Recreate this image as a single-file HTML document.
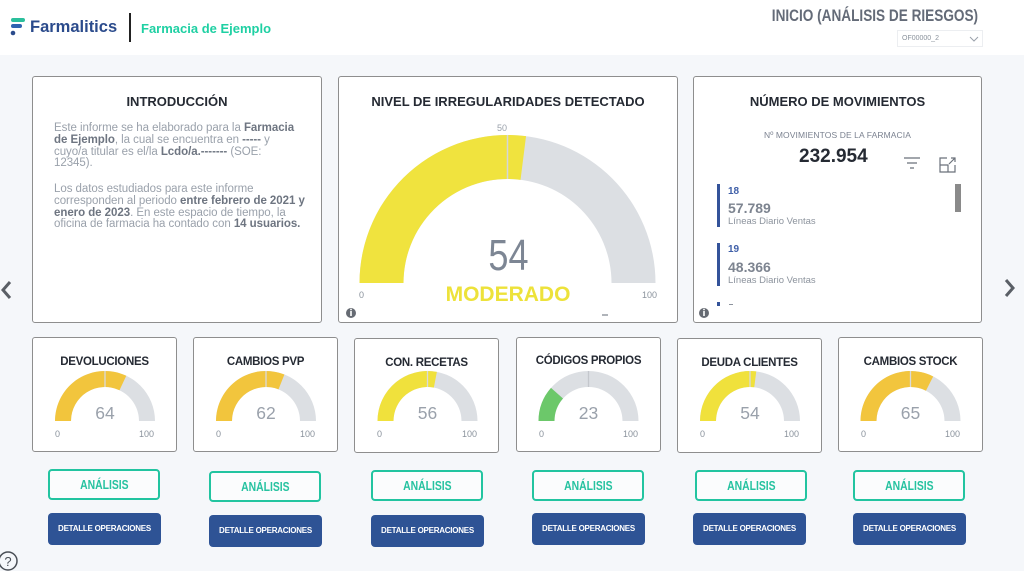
<!DOCTYPE html>
<html><head><meta charset="utf-8">
<style>
*{margin:0;padding:0;box-sizing:border-box}
body{width:1024px;height:571px;overflow:hidden;background:#f5f7fa;font-family:"Liberation Sans",sans-serif;position:relative}
.abs{position:absolute}
.hdr{left:0;top:0;width:1024px;height:55px;background:#fff}
.card{position:absolute;background:#fff;border:1px solid #8e8e8e;border-radius:3px}
.ttl{position:absolute;left:0;width:100%;text-align:center;font-weight:bold;color:#252a33;white-space:nowrap}
.intro{position:absolute;left:21px;font-size:11.5px;line-height:11.8px;color:#9aa1ab;white-space:nowrap;letter-spacing:-0.05px}
.intro b{color:#6e7581}
.val{position:absolute;text-align:center;color:#9aa1ab;font-size:17.5px;width:60px;line-height:18px}
.lbl{position:absolute;font-size:9px;color:#8a929c;line-height:10px}
.btnA{position:absolute;width:112px;height:31px;border:2px solid #22c4a0;border-radius:4px;background:#fbfcfd;color:#26c2a0;font-weight:bold;font-size:13px;text-align:center;line-height:27px}
.btnA span{display:inline-block;transform:scaleX(0.8)}
.btnD{position:absolute;width:113px;height:32px;background:#2e5395;border-radius:4px;color:#fff;font-weight:bold;font-size:8px;text-align:center;line-height:32px;letter-spacing:-0.25px}
svg{position:absolute;left:0;top:0}
</style></head><body>
<div class="abs hdr"></div>
<!-- header left -->
<div class="abs" style="left:30px;top:17px;font-size:16.5px;font-weight:bold;color:#2b4b8c;line-height:20px">Farmalitics</div>
<div class="abs" style="left:129px;top:13px;width:1.5px;height:29px;background:#222"></div>
<div class="abs" style="left:141px;top:20px;font-size:13px;font-weight:bold;color:#1fd0a3;line-height:17px">Farmacia de Ejemplo</div>
<!-- header right -->
<div class="abs" style="left:725px;top:6px;width:300px;text-align:center;line-height:20px;white-space:nowrap"><span style="display:inline-block;font-size:17px;font-weight:bold;color:#646b78;transform:scaleX(0.8);transform-origin:center">INICIO (ANÁLISIS DE RIESGOS)</span></div>
<div class="abs" style="left:897px;top:30px;width:86px;height:17px;background:#fff;border:1px solid #eceef1"></div>
<div class="abs" style="left:902px;top:34px;font-size:7px;color:#8a929c;line-height:9px">OF00000_2</div>

<!-- intro card -->
<div class="card" style="left:32px;top:76px;width:290px;height:247px">
  <div class="ttl" style="top:17px;font-size:13px">INTRODUCCIÓN</div>
  <div class="intro" style="top:46px">Este informe se ha elaborado para la <b>Farmacia</b><br><b>de Ejemplo</b>, la cual se encuentra en <b>-----</b> y<br>cuyo/a titular es el/la <b>Lcdo/a.-------</b> (SOE:<br>12345).</div>
  <div class="intro" style="top:107px">Los datos estudiados para este informe<br>corresponden al periodo <b>entre febrero de 2021 y</b><br><b>enero de 2023</b>. En este espacio de tiempo, la<br>oficina de farmacia ha contado con <b>14 usuarios.</b></div>
</div>

<!-- big gauge card -->
<div class="card" style="left:338px;top:76px;width:340px;height:247px">
  <div class="ttl" style="top:17px;font-size:13px">NIVEL DE IRREGULARIDADES DETECTADO</div>
</div>

<!-- movimientos card -->
<div class="card" style="left:693px;top:76px;width:289px;height:247px">
  <div class="ttl" style="top:17px;font-size:13px">NÚMERO DE MOVIMIENTOS</div>
  <div class="ttl" style="top:53px;font-size:8.5px;font-weight:normal;color:#7b8290;letter-spacing:0.1px">Nº MOVIMIENTOS DE LA FARMACIA</div>
  <div class="abs" style="left:105px;top:69px;font-size:19px;font-weight:bold;color:#252a33;line-height:22px">232.954</div>
  <div class="abs" style="left:23px;top:107px;width:3px;height:43px;background:#34539a"></div>
  <div class="abs" style="left:34px;top:109px;font-size:10px;font-weight:bold;color:#3f5fa8;line-height:11px">18</div>
  <div class="abs" style="left:34px;top:123px;font-size:14px;font-weight:bold;color:#7d8490;line-height:16px">57.789</div>
  <div class="abs" style="left:34px;top:139px;font-size:9.5px;color:#8c939d;line-height:11px">Líneas Diario Ventas</div>
  <div class="abs" style="left:23px;top:166px;width:3px;height:43px;background:#34539a"></div>
  <div class="abs" style="left:34px;top:167px;font-size:10px;font-weight:bold;color:#3f5fa8;line-height:11px">19</div>
  <div class="abs" style="left:34px;top:182px;font-size:14px;font-weight:bold;color:#7d8490;line-height:16px">48.366</div>
  <div class="abs" style="left:34px;top:198px;font-size:9.5px;color:#8c939d;line-height:11px">Líneas Diario Ventas</div>
  <div class="abs" style="left:23px;top:225px;width:3px;height:4px;background:#34539a"></div>
  <div class="abs" style="left:35px;top:227px;width:4px;height:1px;background:#8c939d"></div>
  <div class="abs" style="left:261px;top:107px;width:6px;height:28px;background:#8a8a8a"></div>
</div>

<!-- small cards -->
<div class="card" style="left:32px;top:337px;width:145px;height:115px"><div class="ttl" style="top:18px;font-size:11.5px;letter-spacing:-0.3px">DEVOLUCIONES</div></div>
<div class="card" style="left:193px;top:337px;width:145px;height:115px"><div class="ttl" style="top:18px;font-size:11.5px;letter-spacing:-0.3px">CAMBIOS PVP</div></div>
<div class="card" style="left:354px;top:338px;width:145px;height:115px"><div class="ttl" style="top:18px;font-size:11.5px;letter-spacing:-0.3px">CON. RECETAS</div></div>
<div class="card" style="left:516px;top:337px;width:145px;height:115px"><div class="ttl" style="top:17px;font-size:11.5px;letter-spacing:-0.3px">CÓDIGOS PROPIOS</div></div>
<div class="card" style="left:677px;top:338px;width:145px;height:115px"><div class="ttl" style="top:18px;font-size:11.5px;letter-spacing:-0.3px">DEUDA CLIENTES</div></div>
<div class="card" style="left:838px;top:337px;width:145px;height:115px"><div class="ttl" style="top:18px;font-size:11.5px;letter-spacing:-0.3px">CAMBIOS STOCK</div></div>

<!-- gauges svg -->
<svg width="1024" height="571" viewBox="0 0 1024 571">
  <!-- logo icon -->
  <rect x="11" y="18" width="14" height="4" rx="2" fill="#2bbf9c"/>
  <rect x="11" y="24" width="11" height="4" rx="2" fill="#2f63b0"/>
  <circle cx="13" cy="33" r="2.3" fill="#2b4b8c"/>
  <!-- dropdown chevron -->
  <polyline points="970,37 974,41 978,37" fill="none" stroke="#9aa1ab" stroke-width="1"/>
  <!-- big gauge -->
  <g transform="translate(507.5,283)">
    <path d="M-148,0 A148,148 0 0 1 148,0 L104,0 A104,104 0 0 0 -104,0Z" fill="#dcdfe3"/>
    <path d="M-148,0 A148,148 0 0 1 18.54,-146.83 L13.03,-103.18 A104,104 0 0 0 -104,0Z" fill="#f0e33e"/>
    <path d="M0,-104 L0,-148" stroke="#d4d6da" stroke-width="1.5"/>
  </g>
  <!-- small gauges -->
  <g transform="translate(105,421)">
    <path d="M-50,0 A50,50 0 0 1 50,0 L34,0 A34,34 0 0 0 -34,0Z" fill="#dcdfe3"/>
    <path d="M-50,0 A50,50 0 0 1 21.29,-45.24 L14.48,-30.76 A34,34 0 0 0 -34,0Z" fill="#f2c53d"/>
    <path d="M0,-34 L0,-50" stroke="#d9dadd" stroke-width="1.3"/>
  </g>
  <g transform="translate(266,421)">
    <path d="M-50,0 A50,50 0 0 1 50,0 L34,0 A34,34 0 0 0 -34,0Z" fill="#dcdfe3"/>
    <path d="M-50,0 A50,50 0 0 1 18.40,-46.49 L12.52,-31.61 A34,34 0 0 0 -34,0Z" fill="#f2c53d"/>
    <path d="M0,-34 L0,-50" stroke="#d9dadd" stroke-width="1.3"/>
  </g>
  <g transform="translate(427.5,421)">
    <path d="M-50,0 A50,50 0 0 1 50,0 L34,0 A34,34 0 0 0 -34,0Z" fill="#dcdfe3"/>
    <path d="M-50,0 A50,50 0 0 1 9.37,-49.11 L6.37,-33.40 A34,34 0 0 0 -34,0Z" fill="#f0e13c"/>
    <path d="M0,-34 L0,-50" stroke="#d9dadd" stroke-width="1.3"/>
  </g>
  <g transform="translate(588.5,421)">
    <path d="M-50,0 A50,50 0 0 1 50,0 L34,0 A34,34 0 0 0 -34,0Z" fill="#dcdfe3"/>
    <path d="M-50,0 A50,50 0 0 1 -37.50,-33.07 L-25.50,-22.48 A34,34 0 0 0 -34,0Z" fill="#6cc86a"/>
    <path d="M0,-34 L0,-50" stroke="#c4c7cc" stroke-width="1.3"/>
  </g>
  <g transform="translate(750,421)">
    <path d="M-50,0 A50,50 0 0 1 50,0 L34,0 A34,34 0 0 0 -34,0Z" fill="#dcdfe3"/>
    <path d="M-50,0 A50,50 0 0 1 6.27,-49.61 L4.26,-33.73 A34,34 0 0 0 -34,0Z" fill="#f0e13c"/>
    <path d="M0,-34 L0,-50" stroke="#d9dadd" stroke-width="1.3"/>
  </g>
  <g transform="translate(910.5,421)">
    <path d="M-50,0 A50,50 0 0 1 50,0 L34,0 A34,34 0 0 0 -34,0Z" fill="#dcdfe3"/>
    <path d="M-50,0 A50,50 0 0 1 22.70,-44.55 L15.44,-30.29 A34,34 0 0 0 -34,0Z" fill="#f2c53d"/>
    <path d="M0,-34 L0,-50" stroke="#d9dadd" stroke-width="1.3"/>
  </g>
  <!-- info icons -->
  <circle cx="351" cy="313" r="5" fill="#666b73"/>
  <rect x="350.2" y="311" width="1.6" height="5" fill="#fff"/>
  <circle cx="351" cy="309.5" r="0.9" fill="#fff"/>
  <circle cx="704" cy="313" r="5" fill="#666b73"/>
  <rect x="703.2" y="311" width="1.6" height="5" fill="#fff"/>
  <circle cx="704" cy="309.5" r="0.9" fill="#fff"/>
  <rect x="602" y="314" width="6" height="2" fill="#b0b4ba"/>
  <!-- filter icon -->
  <path d="M904,158 H920 M907,163 H917 M910,168 H914" stroke="#6b717b" stroke-width="1.2"/>
  <!-- expand icon -->
  <path d="M947,158 H940 V172 H955 V165 M940,165 H948 V172 M949,164 L955,158 M951,158 H955 V162" fill="none" stroke="#6b717b" stroke-width="1.2"/>
  <!-- nav arrows -->
  <polyline points="10,282 3,290 10,298" fill="none" stroke="#5a5f66" stroke-width="3"/>
  <polyline points="1006,280 1013,288 1006,296" fill="none" stroke="#5a5f66" stroke-width="3"/>
  <!-- help -->
  <circle cx="8" cy="561" r="9" fill="none" stroke="#4a4f56" stroke-width="1.5"/>
  <text x="8" y="566" font-family="Liberation Sans, sans-serif" font-size="13" text-anchor="middle" fill="#4a4f56">?</text>
</svg>

<!-- big gauge labels -->
<div class="abs" style="left:497px;top:123px;font-size:9px;color:#9aa1ab;line-height:10px">50</div>
<div class="abs" style="left:359px;top:290px;font-size:9px;color:#8a929c;line-height:10px">0</div>
<div class="abs" style="left:642px;top:290px;font-size:9px;color:#8a929c;line-height:10px">100</div>
<div class="abs" style="left:458px;top:232px;width:100px;text-align:center;line-height:48px"><span style="display:inline-block;font-size:44px;color:#7d8694;transform:scaleX(0.82)">54</span></div>
<div class="abs" style="left:408px;top:284px;width:200px;text-align:center;font-size:21px;font-weight:bold;color:#ede23a;line-height:22px">MODERADO</div>

<!-- small gauge values/labels -->
<div class="val" style="left:75px;top:404px">64</div>
<div class="lbl" style="left:55px;top:429px">0</div><div class="lbl" style="left:139px;top:429px">100</div>
<div class="val" style="left:236px;top:404px">62</div>
<div class="lbl" style="left:216px;top:429px">0</div><div class="lbl" style="left:300px;top:429px">100</div>
<div class="val" style="left:397.5px;top:404px">56</div>
<div class="lbl" style="left:377px;top:429px">0</div><div class="lbl" style="left:462px;top:429px">100</div>
<div class="val" style="left:558.5px;top:404px">23</div>
<div class="lbl" style="left:539px;top:429px">0</div><div class="lbl" style="left:623px;top:429px">100</div>
<div class="val" style="left:720px;top:404px">54</div>
<div class="lbl" style="left:700px;top:429px">0</div><div class="lbl" style="left:784px;top:429px">100</div>
<div class="val" style="left:880.5px;top:404px">65</div>
<div class="lbl" style="left:861px;top:429px">0</div><div class="lbl" style="left:945px;top:429px">100</div>

<!-- buttons -->
<div class="btnA" style="left:48px;top:469px"><span>ANÁLISIS</span></div>
<div class="btnA" style="left:209px;top:471px"><span>ANÁLISIS</span></div>
<div class="btnA" style="left:371px;top:470px"><span>ANÁLISIS</span></div>
<div class="btnA" style="left:532px;top:470px"><span>ANÁLISIS</span></div>
<div class="btnA" style="left:695px;top:470px"><span>ANÁLISIS</span></div>
<div class="btnA" style="left:853px;top:470px"><span>ANÁLISIS</span></div>

<div class="btnD" style="left:48px;top:513px">DETALLE OPERACIONES</div>
<div class="btnD" style="left:209px;top:515px">DETALLE OPERACIONES</div>
<div class="btnD" style="left:371px;top:515px">DETALLE OPERACIONES</div>
<div class="btnD" style="left:532px;top:513px">DETALLE OPERACIONES</div>
<div class="btnD" style="left:693px;top:513px">DETALLE OPERACIONES</div>
<div class="btnD" style="left:853px;top:513px">DETALLE OPERACIONES</div>
</body></html>
